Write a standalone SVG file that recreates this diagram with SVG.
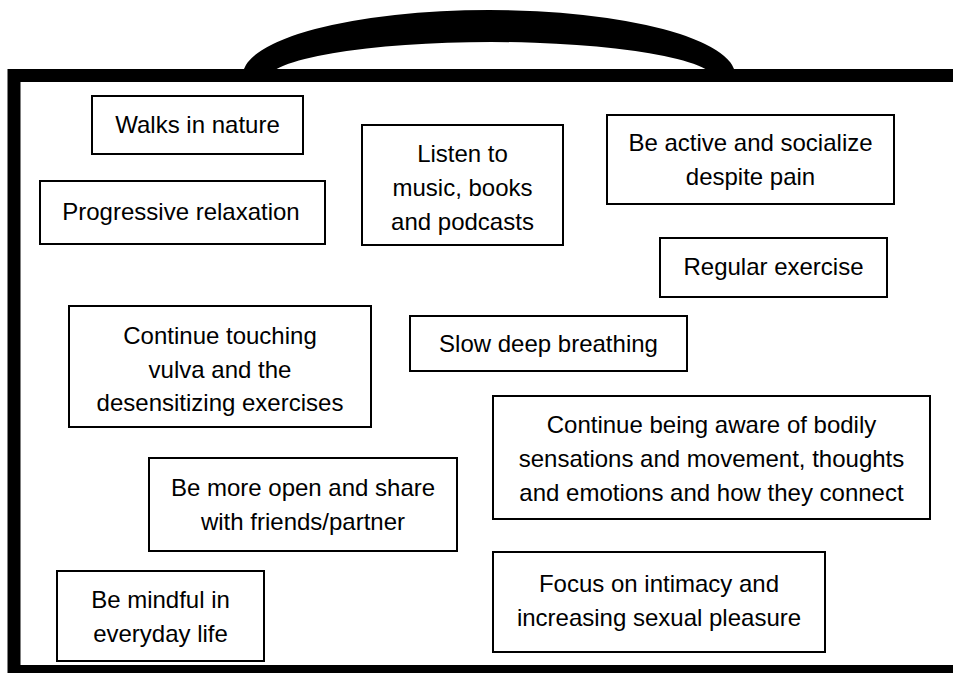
<svg xmlns="http://www.w3.org/2000/svg" width="953" height="673" viewBox="0 0 953 673">
<style>
.box{fill:#fff;stroke:#000;stroke-width:2}
.t{font-family:"Liberation Sans",Arial,sans-serif;font-size:24px;fill:#000;text-anchor:middle}
</style>
<rect width="953" height="673" fill="#fff"/>
<g id="suitcase">
<path d="M243 75 A246 65 0 0 1 735 75 L715 80 A224 38 0 0 0 267 80 Z" fill="#000"/>
<rect x="14" y="75.5" width="1000" height="596" fill="none" stroke="#000" stroke-width="13"/>
</g>
<g id="connectors"></g>
<g id="walks"><rect class="box" x="92" y="96" width="211" height="58"/><text class="t" x="197.5" y="133">Walks in nature</text></g>
<g id="progressive"><rect class="box" x="40" y="181" width="285" height="63"/><text class="t" x="181" y="220">Progressive relaxation</text></g>
<g id="listen"><rect class="box" x="362" y="125" width="201" height="120"/><text class="t" x="462.5" y="162">Listen to</text><text class="t" x="462.5" y="196">music, books</text><text class="t" x="462.5" y="230">and podcasts</text></g>
<g id="active"><rect class="box" x="607" y="115" width="287" height="89"/><text class="t" x="750.5" y="151">Be active and socialize</text><text class="t" x="750.5" y="185">despite pain</text></g>
<g id="regular"><rect class="box" x="660" y="238" width="227" height="59"/><text class="t" x="773.5" y="275">Regular exercise</text></g>
<g id="touching"><rect class="box" x="69" y="306" width="302" height="121"/><text class="t" x="220" y="344">Continue touching</text><text class="t" x="220" y="377.5">vulva and the</text><text class="t" x="220" y="411">desensitizing exercises</text></g>
<g id="breathing"><rect class="box" x="410" y="316" width="277" height="55"/><text class="t" x="548.5" y="352">Slow deep breathing</text></g>
<g id="aware"><rect class="box" x="493" y="396" width="437" height="123"/><text class="t" x="711.5" y="433">Continue being aware of bodily</text><text class="t" x="711.5" y="467">sensations and movement, thoughts</text><text class="t" x="711.5" y="501">and emotions and how they connect</text></g>
<g id="open"><rect class="box" x="149" y="458" width="308" height="93"/><text class="t" x="303" y="496">Be more open and share</text><text class="t" x="303" y="530">with friends/partner</text></g>
<g id="mindful"><rect class="box" x="57" y="571" width="207" height="90"/><text class="t" x="160.5" y="607.5">Be mindful in</text><text class="t" x="160.5" y="641.5">everyday life</text></g>
<g id="intimacy"><rect class="box" x="493" y="552" width="332" height="100"/><text class="t" x="659" y="592">Focus on intimacy and</text><text class="t" x="659" y="626">increasing sexual pleasure</text></g>
</svg>
